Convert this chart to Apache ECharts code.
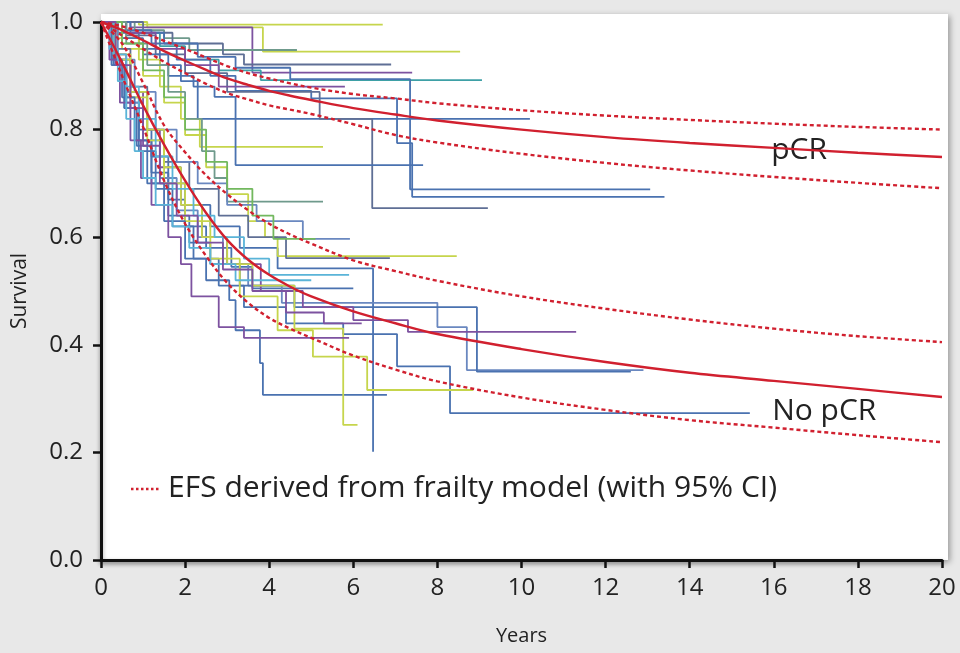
<!DOCTYPE html>
<html>
<head>
<meta charset="utf-8">
<script src="https://cdn.jsdelivr.net/npm/echarts@6/dist/echarts.min.js"></script>
<style>
  html, body { margin: 0; padding: 0; background: #e8e8e8; }
  #chart { width: 960px; height: 653px; }
</style>
</head>
<body>
<div id="chart"></div>
<script>
// Time points (years) for the frailty-model EFS curves
const modelYears = [0, 0.5, 1, 1.5, 2, 2.5, 3, 3.5, 4, 4.5, 5, 6, 7, 8, 10, 12, 14, 16, 18, 20];

// Model EFS with pCR (estimate and 95% CI)
const pcrFit  = [1, 0.985, 0.966, 0.946, 0.928, 0.911, 0.895, 0.883, 0.872, 0.863, 0.855, 0.840, 0.828, 0.817, 0.800, 0.786, 0.775, 0.766, 0.757, 0.749];
const pcrHigh = [1, 0.992, 0.980, 0.965, 0.950, 0.934, 0.918, 0.905, 0.895, 0.886, 0.878, 0.866, 0.858, 0.849, 0.836, 0.826, 0.818, 0.811, 0.805, 0.800];
const pcrLow  = [1, 0.975, 0.950, 0.926, 0.905, 0.885, 0.868, 0.856, 0.845, 0.837, 0.829, 0.810, 0.790, 0.776, 0.755, 0.738, 0.724, 0.712, 0.701, 0.691];

// Model EFS without pCR (estimate and 95% CI)
const noPcrFit  = [1, 0.925, 0.845, 0.772, 0.705, 0.645, 0.595, 0.558, 0.530, 0.508, 0.490, 0.462, 0.440, 0.420, 0.392, 0.368, 0.348, 0.333, 0.318, 0.303];
const noPcrHigh = [1, 0.960, 0.887, 0.808, 0.758, 0.715, 0.680, 0.650, 0.625, 0.605, 0.588, 0.557, 0.537, 0.519, 0.490, 0.467, 0.447, 0.430, 0.416, 0.405];
const noPcrLow  = [1, 0.900, 0.805, 0.705, 0.625, 0.565, 0.515, 0.478, 0.450, 0.430, 0.413, 0.380, 0.354, 0.332, 0.302, 0.279, 0.260, 0.246, 0.232, 0.219];

// Kaplan-Meier EFS per study, patients with pCR: [year, survival after event]
const pcrStudies = [
  [[0,1],[0.9,0.995],[6.7,0.995]],
  [[0,1],[1.1,0.99],[3.85,0.945],[8.54,0.945]],
  [[0,1],[0.7,0.99],[3.6,0.906],[7.4,0.906]],
  [[0,1],[0.8,0.985],[1.5,0.97],[2.1,0.948],[4.66,0.948]],
  [[0,1],[1.0,0.98],[1.7,0.96],[2.9,0.94],[3.4,0.921],[6.9,0.921]],
  [[0,1],[0.6,0.98],[1.4,0.955],[2.0,0.93],[2.8,0.91],[3.8,0.892],[9.06,0.892]],
  [[0,1],[0.7,0.98],[1.5,0.96],[2.3,0.935],[3.2,0.915],[4.5,0.894],[7.35,0.689],[13.06,0.689]],
  [[0,1],[0.5,0.985],[1.2,0.96],[1.8,0.93],[2.6,0.9],[3.2,0.872],[5.0,0.858],[7.04,0.775],[7.4,0.675],[13.4,0.675]],
  [[0,1],[0.4,0.98],[0.9,0.95],[1.4,0.92],[1.9,0.89],[2.3,0.82],[10.2,0.82]],
  [[0,1],[0.6,0.975],[1.3,0.94],[2.0,0.905],[3.0,0.87],[5.2,0.82],[6.45,0.654],[9.2,0.654]],
  [[0,1],[0.4,0.97],[0.9,0.93],[1.4,0.88],[1.9,0.82],[2.35,0.768],[5.28,0.768]],
  [[0,1],[0.5,0.97],[1.0,0.94],[1.6,0.9],[2.2,0.88],[2.7,0.861],[3.2,0.734],[7.66,0.734]],
  [[0,1],[0.6,0.98],[1.3,0.95],[2.0,0.92],[2.8,0.88],[5.8,0.88]]
];

// Kaplan-Meier EFS per study, patients without pCR
const noPcrStudies = [
  [[0,1],[0.3,0.93],[0.6,0.86],[0.9,0.8],[1.2,0.75],[1.6,0.7],[2.0,0.66],[2.6,0.62],[3.3,0.58],[4.2,0.542],[6.47,0.201]],
  [[0,1],[0.5,0.95],[1.0,0.9],[1.5,0.85],[2.0,0.79],[2.5,0.73],[3.0,0.68],[3.5,0.63],[3.9,0.6],[4.2,0.565],[8.46,0.565]],
  [[0,1],[0.3,0.95],[0.7,0.88],[1.1,0.8],[1.5,0.74],[2.1,0.69],[2.8,0.64],[3.5,0.6],[4.4,0.561],[6.87,0.561]],
  [[0,1],[0.6,0.96],[1.1,0.92],[1.6,0.87],[2.0,0.82],[2.4,0.76],[2.7,0.71],[3.0,0.666],[5.28,0.666]],
  [[0,1],[0.4,0.93],[0.8,0.87],[1.3,0.8],[1.8,0.74],[2.3,0.7],[3.0,0.66],[3.7,0.63],[4.8,0.597],[5.92,0.597]],
  [[0,1],[0.3,0.92],[0.6,0.85],[0.9,0.78],[1.2,0.72],[1.6,0.67],[2.0,0.62],[2.5,0.58],[3.1,0.545],[3.6,0.505],[6.0,0.505]],
  [[0,1],[0.3,0.93],[0.7,0.85],[1.0,0.78],[1.4,0.71],[1.8,0.65],[2.3,0.6],[2.9,0.55],[3.5,0.51],[4.3,0.478],[8.0,0.433],[8.7,0.353],[12.9,0.353]],
  [[0,1],[0.25,0.92],[0.55,0.84],[0.85,0.77],[1.2,0.7],[1.6,0.64],[2.1,0.59],[2.6,0.55],[3.3,0.51],[4.6,0.47],[8.94,0.35],[12.6,0.35]],
  [[0,1],[0.3,0.92],[0.6,0.84],[0.9,0.76],[1.3,0.69],[1.7,0.62],[2.2,0.56],[2.8,0.51],[3.4,0.47],[4.4,0.44],[5.76,0.42],[7.04,0.36],[8.3,0.273],[15.43,0.273]],
  [[0,1],[0.3,0.94],[0.6,0.87],[1.0,0.8],[1.4,0.73],[1.9,0.66],[2.4,0.6],[3.0,0.55],[3.8,0.5],[4.8,0.47],[6.0,0.446],[7.3,0.424],[11.3,0.424]],
  [[0,1],[0.35,0.93],[0.7,0.86],[1.1,0.78],[1.5,0.7],[2.0,0.63],[2.6,0.56],[3.3,0.49],[4.2,0.427],[5.04,0.378],[6.33,0.316],[8.85,0.316]],
  [[0,1],[0.25,0.93],[0.5,0.86],[0.8,0.78],[1.1,0.7],[1.5,0.63],[2.0,0.56],[2.5,0.52],[3.05,0.483],[3.2,0.427],[3.78,0.366],[3.85,0.307],[6.8,0.307]],
  [[0,1],[0.3,0.94],[0.7,0.87],[1.1,0.8],[1.5,0.73],[1.9,0.66],[2.4,0.6],[3.0,0.55],[3.6,0.51],[4.6,0.43],[5.76,0.251],[6.1,0.251]],
  [[0,1],[0.2,0.93],[0.45,0.85],[0.7,0.78],[0.95,0.71],[1.2,0.66],[1.6,0.6],[1.9,0.55],[2.15,0.49],[2.8,0.433],[3.4,0.413],[5.9,0.413]],
  [[0,1],[0.2,0.95],[0.4,0.89],[0.6,0.82],[0.8,0.76],[1.0,0.71],[1.3,0.66],[1.7,0.62],[2.1,0.58],[2.6,0.55],[3.2,0.52],[5.0,0.52]],
  [[0,1],[0.5,0.96],[1.0,0.91],[1.5,0.86],[2.0,0.8],[2.5,0.74],[3.0,0.69],[3.6,0.64],[4.1,0.597],[5.1,0.597]],
  [[0,1],[0.3,0.94],[0.6,0.88],[0.9,0.82],[1.3,0.75],[1.7,0.69],[2.2,0.64],[2.7,0.6],[3.4,0.56],[4.0,0.53],[5.9,0.53]],
  [[0,1],[0.35,0.92],[0.7,0.84],[1.0,0.77],[1.4,0.7],[1.8,0.64],[2.3,0.59],[2.9,0.54],[3.6,0.5],[4.4,0.46],[5.3,0.44],[6.2,0.44]]
];

// Line colours for the individual studies
const C = {
  blue: '#4a72b0', purple: '#7d52a0', teal: '#3ea0a6', light: '#5ab4d8',
  yg: '#c6d54c', green: '#72b85e', slate: '#5f6f95', steel: '#6a88c0', sage: '#6f9a8c'
};
const pcrColors   = [C.yg, C.yg, C.purple, C.sage, C.slate, C.teal, C.blue, C.blue, C.blue, C.slate, C.yg, C.blue, C.purple];
const noPcrColors = [C.blue, C.yg, C.slate, C.sage, C.steel, C.blue, C.steel, C.blue, C.blue, C.purple, C.yg, C.blue, C.yg, C.purple, C.light, C.green, C.light, C.purple];

const RED = '#d1202f';
const FONT = '"Open Sans", "Noto Sans", sans-serif';
const INK = '#222222';

function stepSeries(curve, color) {
  return {
    type: 'line', step: 'end', data: curve, showSymbol: false, silent: true,
    lineStyle: { color: color, width: 1.8 }, z: 2
  };
}

function fitSeries(values, dashed, label) {
  const s = {
    type: 'line', smooth: 0.35, showSymbol: false, silent: true,
    data: modelYears.map((t, i) => [t, values[i]]),
    lineStyle: { color: RED, width: 2.4, type: dashed ? [4, 3] : 'solid' },
    z: 5
  };
  if (label) {
    s.markPoint = {
      symbol: 'circle', symbolSize: 0, silent: true,
      data: [{ coord: label.coord, value: label.text }],
      label: { show: true, formatter: label.text, color: INK, fontSize: 30, fontFamily: FONT, position: 'inside' }
    };
  }
  return s;
}

const series = [];
pcrStudies.forEach((c, i) => series.push(stepSeries(c, pcrColors[i])));
noPcrStudies.forEach((c, i) => series.push(stepSeries(c, noPcrColors[i])));
series.push(fitSeries(pcrHigh, true));
series.push(fitSeries(pcrLow, true));
series.push(fitSeries(pcrFit, false, { text: 'pCR', coord: [16.6, 0.762] }));
series.push(fitSeries(noPcrHigh, true));
series.push(fitSeries(noPcrLow, true));
series.push(fitSeries(noPcrFit, false, { text: 'No pCR', coord: [17.2, 0.276] }));

const axisLineStyle = { color: '#111', width: 3, shadowBlur: 4, shadowColor: 'rgba(0,0,0,0.35)', shadowOffsetY: 2 };
const labelStyle = { color: INK, fontSize: 24, fontFamily: FONT };

const chart = echarts.init(document.getElementById('chart'), null, { renderer: 'canvas' });
chart.setOption({
  backgroundColor: '#e8e8e8',
  animation: false,
  grid: { left: 101, right: 18, top: 22, bottom: 93, containLabel: false, outerBoundsMode: 'none' },
  graphic: [
    {
      type: 'rect', z: -10, silent: true,
      shape: { x: 101, y: 14, width: 847, height: 546 },
      style: { fill: '#ffffff', shadowBlur: 6, shadowOffsetX: 2, shadowOffsetY: 2, shadowColor: 'rgba(0,0,0,0.35)' }
    },
    {
      type: 'line', z: 100, silent: true,
      shape: { x1: 131, y1: 489, x2: 159, y2: 489 },
      style: { stroke: RED, lineWidth: 2.4, lineDash: [2.5, 2.5] }
    },
    {
      type: 'text', z: 100, silent: true, x: 168, y: 488,
      style: { text: 'EFS derived from frailty model (with 95% CI)', fill: INK, font: '30px ' + FONT, verticalAlign: 'middle' }
    }
  ],
  xAxis: {
    type: 'value', min: 0, max: 20, interval: 2,
    axisLine: { show: true, onZero: false, lineStyle: axisLineStyle },
    axisTick: { show: true, length: 8, lineStyle: { color: '#111', width: 2.5 } },
    axisLabel: Object.assign({ margin: 16 }, labelStyle),
    splitLine: { show: false },
    name: 'Years', nameLocation: 'middle', nameGap: 66,
    nameTextStyle: { color: INK, fontSize: 20, fontFamily: FONT }
  },
  yAxis: {
    type: 'value', min: 0, max: 1, interval: 0.2,
    axisLine: { show: true, onZero: false, lineStyle: axisLineStyle },
    axisTick: { show: true, length: 8, lineStyle: { color: '#111', width: 2.5 } },
    axisLabel: Object.assign({ margin: 18, formatter: v => v.toFixed(1) }, labelStyle),
    splitLine: { show: false },
    name: 'Survival', nameLocation: 'middle', nameGap: 70, nameRotate: 90,
    nameTextStyle: { color: INK, fontSize: 21, fontFamily: FONT }
  },
  series: series
});
</script>
</body>
</html>
